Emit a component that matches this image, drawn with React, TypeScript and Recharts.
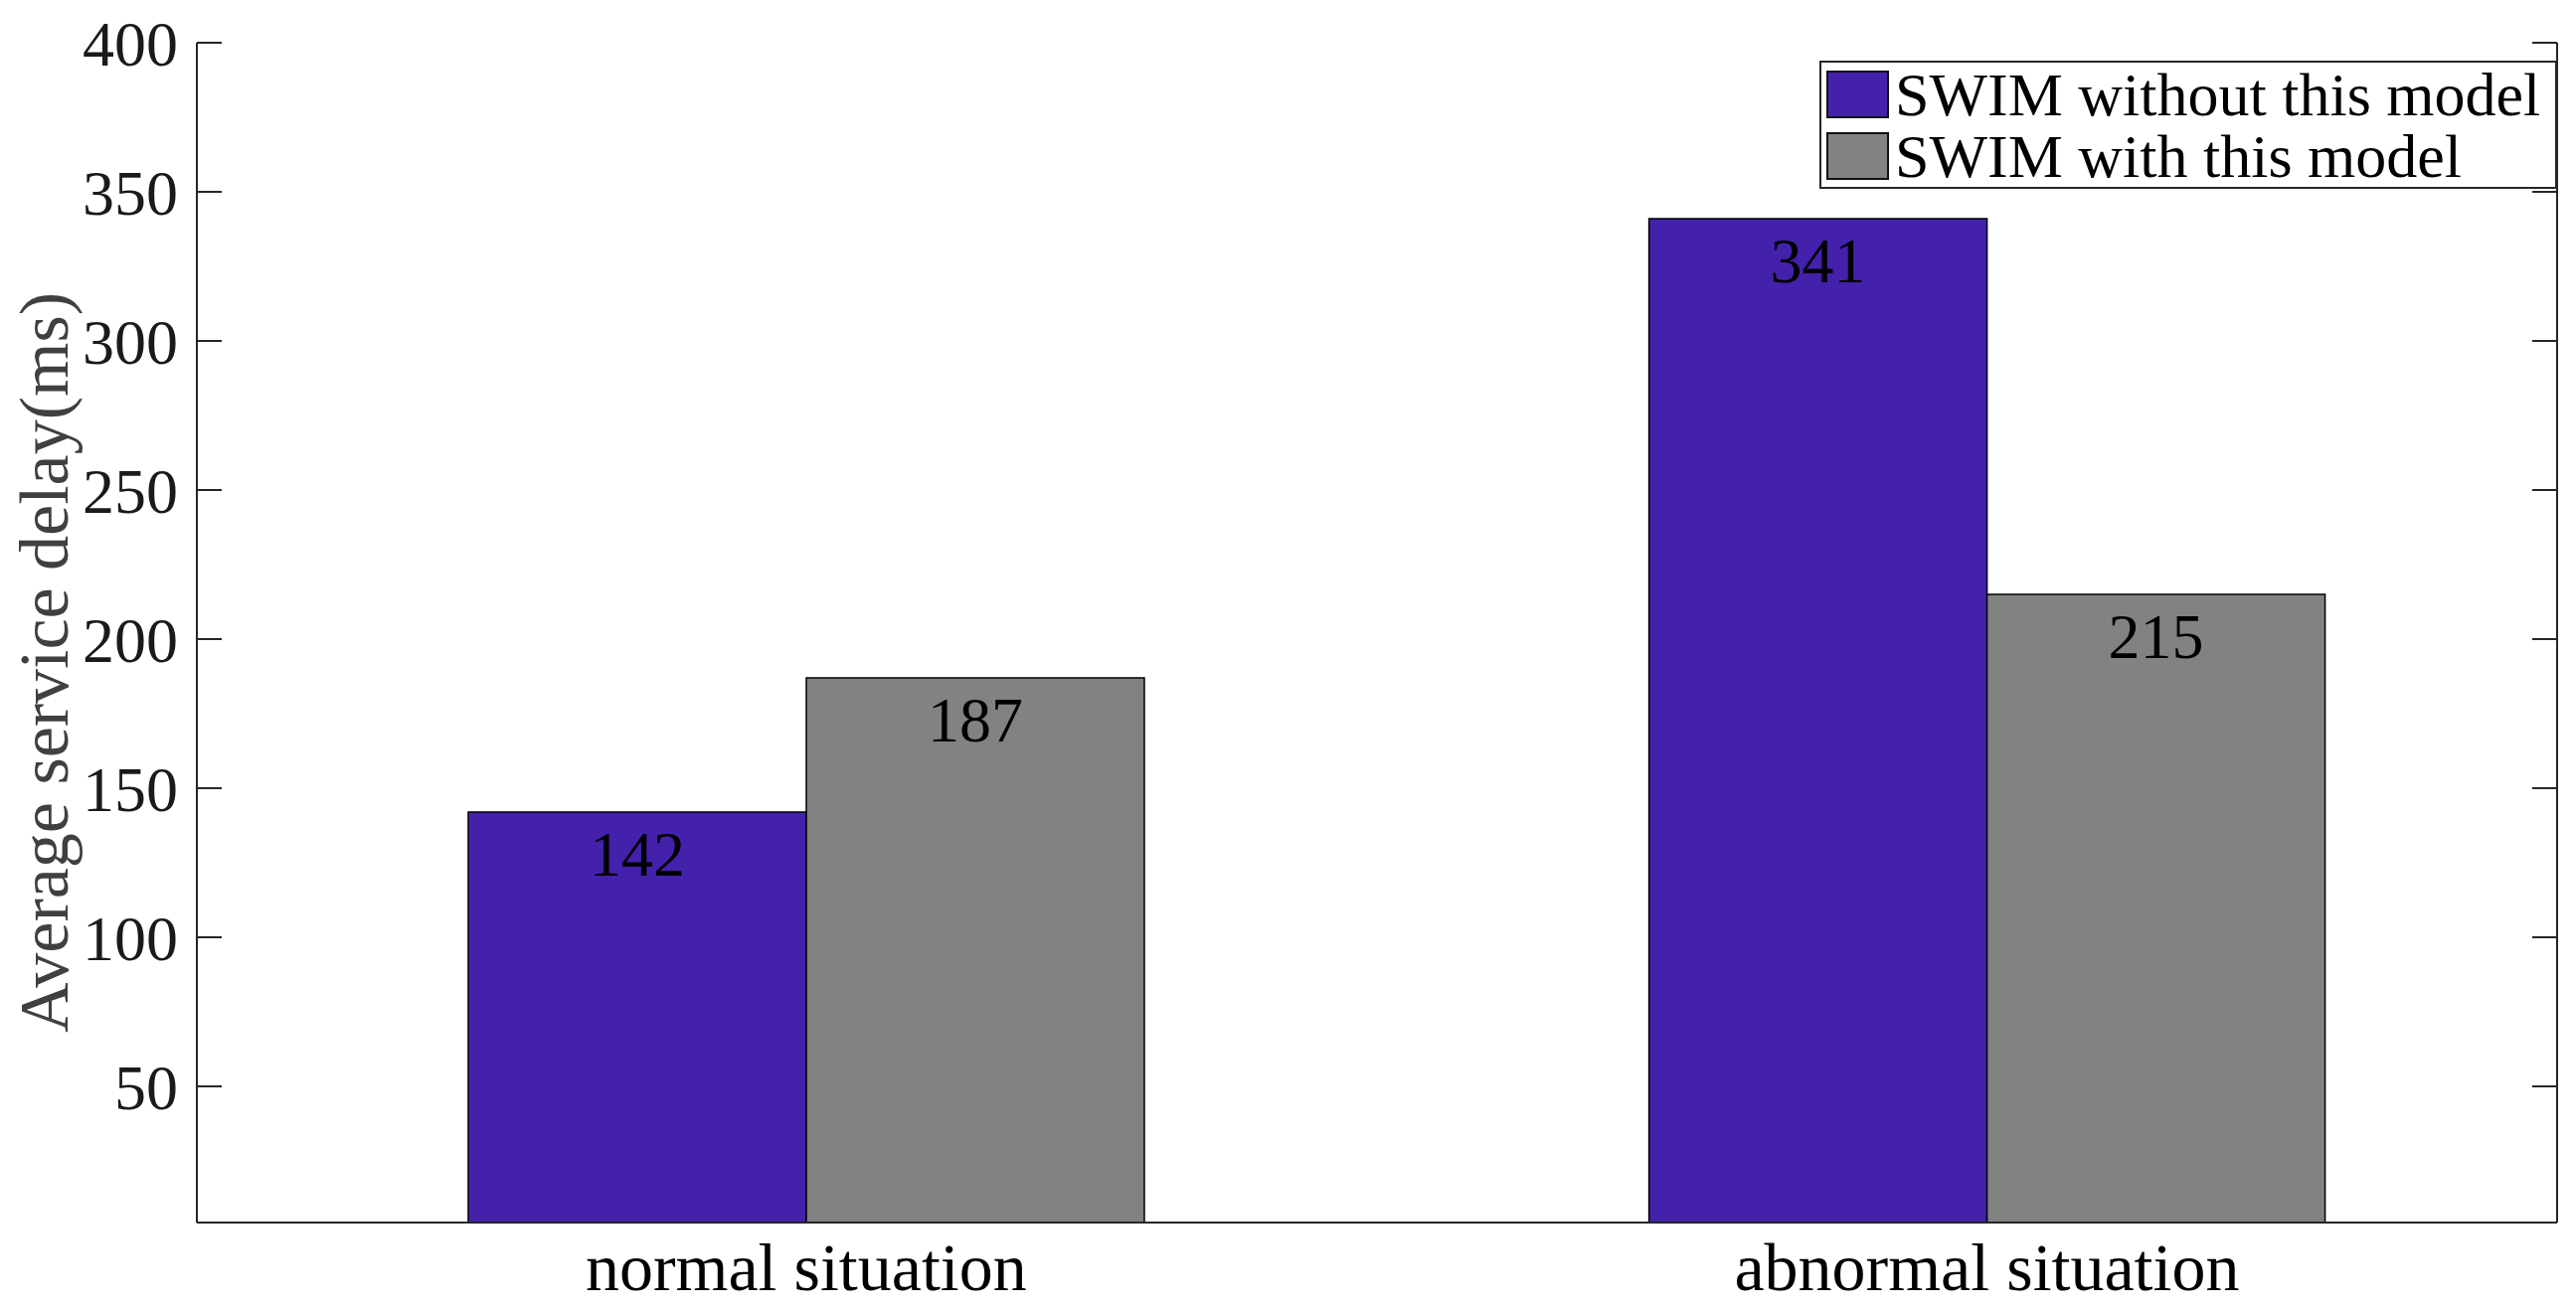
import { Bar, BarChart, LabelList, Legend, XAxis, YAxis } from 'recharts'

const categories = ['normal situation', 'abnormal situation']
const seriesNames = ['SWIM without this model', 'SWIM with this model']
const withoutModel = [142, 341]
const withModel = [187, 215]
const yTicks = [50, 100, 150, 200, 250, 300, 350, 400]
const xTicks = [1, 2]

const data = categories.map((name, i) => ({
  pos: i + 1,
  name,
  without: withoutModel[i],
  with: withModel[i],
}))

const FONT = '"Liberation Serif", "Times New Roman", serif'
const AXIS = '#262626'
const BLUE = '#4321ab'
const GRAY = '#828282'
const fills: Record<string, string> = { without: BLUE, with: GRAY }
const X_DOMAIN = [0.484, 2.483]
const Y_DOMAIN = [4.33, 400]

function YTitle(props: any) {
  const { viewBox } = props
  const x = viewBox.x + 68
  const y = viewBox.y + viewBox.height / 2 + 30
  return (
    <text
      x={x}
      y={y}
      transform={`rotate(-90, ${x}, ${y})`}
      textAnchor="middle"
      fontSize={70}
      fontFamily={FONT}
      fill="#404040"
    >
      Average service delay(ms)
    </text>
  )
}

function LegendBox(props: any) {
  const { payload = [] } = props
  // keep the series order, not the alphabetical one
  const items = [...payload].sort(
    (a: any, b: any) => seriesNames.indexOf(a.value) - seriesNames.indexOf(b.value),
  )
  return (
    <div
      style={{
        width: 742,
        boxSizing: 'border-box',
        border: `2px solid ${AXIS}`,
        background: '#fff',
        paddingTop: 1,
        fontFamily: FONT,
      }}
    >
      {items.map((entry: any) => (
        <div key={entry.value} style={{ display: 'flex', alignItems: 'center', height: 62 }}>
          <span
            style={{
              width: 63,
              height: 48,
              boxSizing: 'border-box',
              border: '2px solid #111',
              background: fills[entry.dataKey],
              marginLeft: 5,
              marginRight: 6,
            }}
          />
          <span style={{ fontSize: 62, lineHeight: '62px', color: '#000', whiteSpace: 'nowrap' }}>
            {entry.value}
          </span>
        </div>
      ))}
    </div>
  )
}

export default function App() {
  const axisLine = { stroke: AXIS, strokeWidth: 2 }
  return (
    <div style={{ position: 'absolute', left: 0, top: 0, background: '#fff', fontFamily: FONT }}>
      <BarChart
        width={2591}
        height={1320}
        data={data}
        margin={{ top: 43, right: 0, bottom: 10, left: 0 }}
        barGap={0}
      >
        <XAxis
          xAxisId="b"
          dataKey="pos"
          type="number"
          domain={X_DOMAIN}
          allowDataOverflow
          ticks={xTicks}
          interval={0}
          tickFormatter={(v) => categories[v - 1]}
          height={80}
          tickSize={0}
          tickMargin={20}
          tickLine={false}
          axisLine={axisLine}
          tick={{ fontSize: 68, fill: '#000', fontFamily: FONT }}
        />
        <XAxis
          xAxisId="t"
          orientation="top"
          type="number"
          domain={X_DOMAIN}
          allowDataOverflow
          height={0}
          tick={false}
          tickLine={false}
          axisLine={axisLine}
        />
        <YAxis
          yAxisId="l"
          type="number"
          domain={Y_DOMAIN}
          allowDataOverflow
          ticks={yTicks}
          interval={0}
          width={198}
          tickSize={-25}
          tickMargin={44}
          tickLine={axisLine}
          axisLine={axisLine}
          tick={{ fontSize: 64, fill: '#1a1a1a', fontFamily: FONT }}
          label={YTitle}
        />
        <YAxis
          yAxisId="r"
          orientation="right"
          type="number"
          domain={Y_DOMAIN}
          allowDataOverflow
          ticks={yTicks}
          interval={0}
          width={19}
          tickSize={-25}
          tickLine={axisLine}
          axisLine={axisLine}
          tickFormatter={() => ''}
        />
        <Legend
          layout="vertical"
          align="center"
          verticalAlign="middle"
          wrapperStyle={{ left: 1830, top: 61, width: 742 }}
          content={LegendBox}
        />
        <Bar
          xAxisId="b"
          yAxisId="l"
          dataKey="without"
          name={seriesNames[0]}
          fill={BLUE}
          stroke="#000"
          strokeWidth={1.5}
          barSize={340}
          isAnimationActive={false}
        >
          <LabelList dataKey="without" position="insideTop" offset={19} fill="#000" fontSize={64} fontFamily={FONT} />
        </Bar>
        <Bar
          xAxisId="b"
          yAxisId="l"
          dataKey="with"
          name={seriesNames[1]}
          fill={GRAY}
          stroke="#000"
          strokeWidth={1.5}
          barSize={340}
          isAnimationActive={false}
        >
          <LabelList dataKey="with" position="insideTop" offset={19} fill="#000" fontSize={64} fontFamily={FONT} />
        </Bar>
      </BarChart>
    </div>
  )
}
